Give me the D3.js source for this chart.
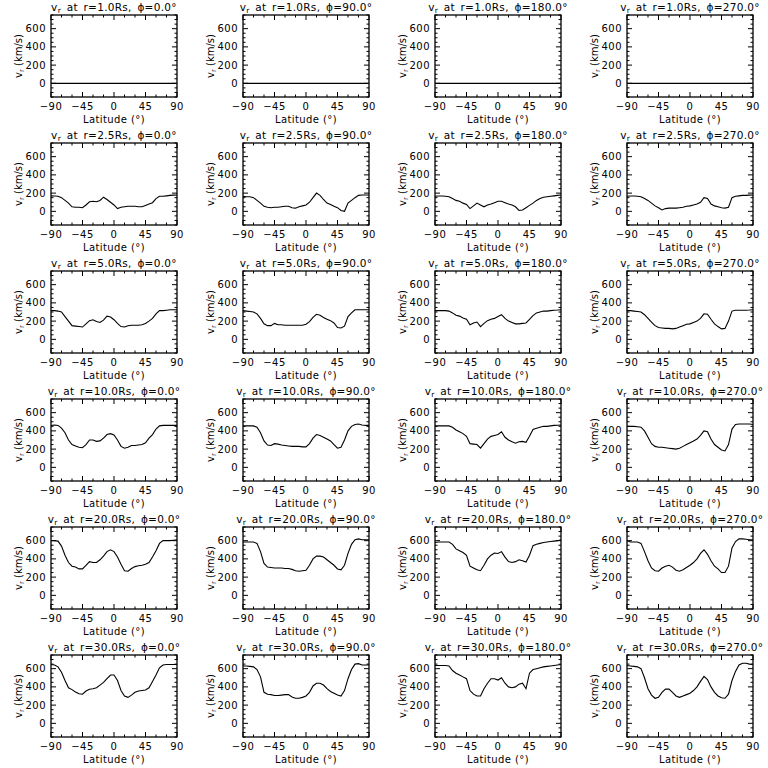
<!DOCTYPE html>
<html>
<head>
<meta charset="utf-8">
<script src="https://cdn.jsdelivr.net/npm/d3@7"></script>
<style>
  body { margin: 0; background: #fff; }
  text { font-family: "DejaVu Sans", sans-serif; fill: #000; }
</style>
</head>
<body>
<div id="chart"></div>
<script>
const width = 768
const height = 768
// data
const radii = [1.0, 2.5, 5.0, 10.0, 20.0, 30.0]
const phis = [0.0, 90.0, 180.0, 270.0]
const latitudes = d3.range(-90, 91, 5) // sampled every 5 deg
const xTicks = [-90, -45, 0, 45, 90]
const yTicks = [0, 200, 400, 600]

const zero = latitudes.map(() => 0)
const r25 = [
  [170,168,165,150,120,90,50,45,45,40,70,105,110,105,120,155,130,100,70,30,45,50,55,55,55,50,50,65,80,95,140,165,165,170,175,178,180],
  [165,160,160,150,120,90,55,45,40,45,45,50,55,55,40,35,50,60,70,100,150,200,175,130,90,75,55,40,10,0,90,120,150,175,180,180,180],
  [165,168,168,165,160,140,120,110,90,75,30,60,90,70,50,70,80,95,110,110,95,80,70,50,10,15,40,65,90,120,140,155,160,165,170,175,180],
  [165,168,168,165,160,140,120,90,60,40,15,30,35,35,35,40,45,55,60,70,80,100,150,140,80,60,50,40,35,45,150,165,170,175,175,178,180]
]
const r50 = [
  [315,315,310,300,250,200,150,145,140,135,170,205,215,195,185,210,255,245,215,175,140,135,150,155,155,155,160,175,200,230,280,315,315,320,325,325,325],
  [315,310,305,300,280,230,170,150,150,175,160,160,155,155,155,155,155,155,165,195,240,275,265,240,220,205,180,130,125,145,250,290,325,325,325,325,325],
  [315,315,315,315,310,290,265,255,235,220,160,180,190,140,175,205,220,230,250,270,230,200,185,170,170,175,180,220,260,290,300,310,310,315,320,322,325],
  [315,315,310,305,300,270,230,190,150,130,125,120,120,115,120,135,150,165,170,185,200,230,280,275,220,170,140,115,120,200,310,320,320,320,320,322,325]
]
const r100 = [
  [460,465,460,430,380,300,250,235,220,215,250,300,300,285,290,320,360,370,355,300,230,210,220,240,240,245,250,270,320,360,420,455,460,460,460,460,460],
  [455,455,455,455,440,380,290,245,240,260,255,245,240,235,230,230,230,225,225,260,320,360,350,330,310,290,250,210,220,300,400,450,470,475,465,460,460],
  [455,455,455,455,455,440,410,390,370,340,260,255,250,210,260,310,340,350,360,390,330,300,280,265,280,285,275,340,415,430,440,450,450,455,460,462,465],
  [450,450,450,445,440,400,330,260,230,220,220,215,210,205,200,210,230,250,270,290,310,350,400,390,310,250,220,190,180,250,420,470,475,475,475,475,470]
]
const r200 = [
  [600,600,595,540,440,360,320,310,290,290,330,370,360,360,390,430,480,500,480,420,340,270,265,295,315,325,330,340,360,420,490,570,600,600,600,605,610],
  [585,585,585,585,570,480,350,310,305,300,300,300,295,295,285,270,265,270,275,330,400,430,430,420,390,360,330,290,280,330,460,560,610,620,610,610,610],
  [580,585,585,585,585,560,510,490,470,440,320,300,280,270,330,400,440,465,460,480,420,370,360,370,390,380,365,440,545,560,570,580,585,590,595,600,610],
  [600,585,585,585,570,480,380,300,270,265,300,320,330,310,275,265,280,305,330,360,400,460,500,450,380,320,290,250,250,320,520,590,620,620,615,610,610]
]
const r300 = [
  [645,640,620,560,470,390,370,345,325,320,355,375,380,390,420,450,490,530,530,470,360,300,285,310,340,355,360,365,390,460,530,610,640,645,645,645,645],
  [630,630,625,620,590,510,340,320,315,305,305,310,315,315,290,275,275,285,300,340,410,440,440,420,380,350,330,310,300,360,490,590,650,655,640,640,640],
  [635,635,635,635,630,580,550,530,510,490,360,320,300,300,380,440,490,490,475,500,440,400,390,400,430,440,380,550,590,600,610,620,625,630,635,640,645],
  [635,630,625,620,600,500,380,310,275,285,340,375,375,340,300,285,300,315,330,360,400,460,515,480,400,340,300,280,275,320,470,570,640,660,660,650,645]
]
const series = [[zero, zero, zero, zero], r25, r50, r100, r200, r300]

// layout
const plotW = 126, plotH = 82
const colStep = 192, rowStep = 128
const left0 = 51, top0 = 15

const svg = d3.select('#chart').append('svg')
  .attr('width', width).attr('height', height)

const x = d3.scaleLinear().domain([-90, 90]).range([0, plotW])
const y = d3.scaleLinear().domain([-150, 750]).range([plotH, 0])
const line = d3.line().x((d, i) => x(latitudes[i])).y(d => y(d))

radii.forEach((r, ri) => {
  phis.forEach((phi, pi) => {
    const g = svg.append('g')
      .attr('transform', `translate(${left0 + pi * colStep}, ${top0 + ri * rowStep})`)

    // inward ticks on all four sides
    const tk = g.append('g').attr('stroke', '#000').attr('stroke-width', 1)
    d3.range(-90, 91, 15).forEach(v => {
      const len = xTicks.includes(v) ? 5 : 2.5
      tk.append('line').attr('x1', x(v)).attr('x2', x(v)).attr('y1', plotH).attr('y2', plotH - len)
      tk.append('line').attr('x1', x(v)).attr('x2', x(v)).attr('y1', 0).attr('y2', len)
    })
    d3.range(-150, 751, 50).forEach(v => {
      const len = yTicks.includes(v) ? 5 : 2.5
      tk.append('line').attr('y1', y(v)).attr('y2', y(v)).attr('x1', 0).attr('x2', len)
      tk.append('line').attr('y1', y(v)).attr('y2', y(v)).attr('x1', plotW).attr('x2', plotW - len)
    })

    g.append('rect').attr('width', plotW).attr('height', plotH)
      .attr('fill', 'none').attr('stroke', '#000').attr('stroke-width', 1.3)

    g.selectAll('.xt').data(xTicks).join('text')
      .attr('x', d => x(d)).attr('y', plotH + 13)
      .attr('text-anchor', 'middle').attr('font-size', 10)
      .attr('letter-spacing', 0.5)
      .text(d => d < 0 ? '\u2212' + (-d) : d)
    g.selectAll('.yt').data(yTicks).join('text')
      .attr('x', -5).attr('y', d => y(d) + 3.5)
      .attr('text-anchor', 'end').attr('font-size', 10)
      .attr('letter-spacing', 0.5)
      .text(d => d)

    g.append('text').attr('x', plotW / 2).attr('y', plotH + 26)
      .attr('text-anchor', 'middle').attr('font-size', 10)
      .attr('letter-spacing', 0.4)
      .text('Latitude (\u00b0)')
    const yl = g.append('text')
      .attr('transform', `translate(-29, ${plotH / 2}) rotate(-90)`)
      .attr('text-anchor', 'middle').attr('font-size', 10)
    yl.append('tspan').text('v')
    yl.append('tspan').attr('font-size', 7).attr('dy', 2).text('r')
    yl.append('tspan').attr('dy', -2).text(' (km/s)')

    const tt = g.append('text').attr('x', plotW / 2).attr('y', -4)
      .attr('text-anchor', 'middle').attr('font-size', 10.5)
      .attr('letter-spacing', 0.3).attr('word-spacing', 2)
    tt.append('tspan').text('v')
    tt.append('tspan').attr('font-size', 7.5).attr('dy', 2).text('r')
    tt.append('tspan').attr('dy', -2).text(` at r=${r.toFixed(1)}Rs, \u03d5=${phi.toFixed(1)}\u00b0`)

    g.append('path').datum(series[ri][pi])
      .attr('d', line).attr('fill', 'none')
      .attr('stroke', '#000').attr('stroke-width', 1.1)
  })
})
</script>
</body>
</html>
